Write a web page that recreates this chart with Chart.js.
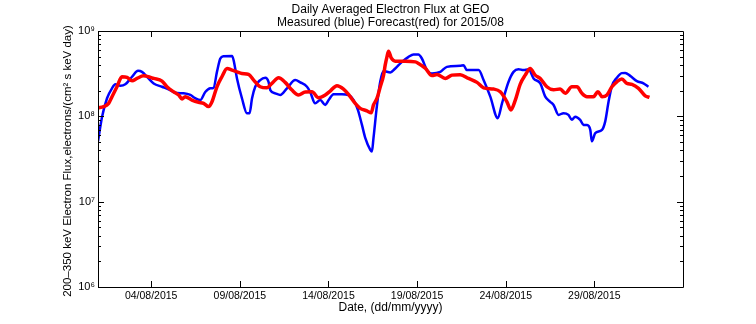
<!DOCTYPE html>
<html lang="en">
<head>
  <meta charset="UTF-8" />
  <title>Daily Averaged Electron Flux at GEO</title>
  <script src="https://cdn.jsdelivr.net/npm/chart.js"></script>
  <style>
    body { margin: 0; background: #fff; }
    #wrap { width: 756px; height: 324px; position: relative; }
  </style>
</head>
<body>
  <div id="wrap"><canvas id="fluxChart"></canvas></div>

  <script>
    // measured flux (blue), x = day of August 2015 (fractional, 32 = 1 Sep), y = electrons/(cm2 s keV day)
    const blueDays = [1.0, 1.23, 1.51, 1.79, 1.98, 2.26, 2.54, 2.92, 3.26, 3.48, 3.85, 4.14, 4.61, 4.98, 5.36, 5.83, 6.21, 6.49, 6.77, 7.05,
      7.34, 7.52, 7.71, 7.9, 8.08, 8.56, 8.65, 8.84, 9.12, 9.4, 9.55, 9.69, 9.87, 10.15, 10.44, 10.62, 10.72, 11.0, 11.28, 11.66,
      12.13, 12.41, 12.79, 12.97, 13.25, 13.54, 13.82, 14.01, 14.29, 14.76, 15.13, 15.42, 15.66, 15.89, 16.08, 16.36, 16.45, 16.54, 16.74, 16.92,
      17.11, 17.49, 17.77, 18.15, 18.52, 18.8, 19.07, 19.27, 19.56, 19.84, 20.31, 20.68, 21.43, 21.62, 21.81, 22.47, 22.75, 23.13, 23.55, 23.79,
      24.16, 24.44, 24.72, 25.0, 25.29, 25.57, 25.95, 26.23, 26.51, 26.7, 26.98, 27.26, 27.54, 27.73, 27.92, 28.2, 28.39, 28.58, 28.77, 28.86,
      29.05, 29.43, 29.61, 29.8, 29.99, 30.27, 30.55, 30.74, 31.02, 31.4, 31.77, 32.05];
    const blueFlux = [5.1e7, 9.9e7, 1.63e8, 2.13e8, 2.37e8, 2.28e8, 2.37e8, 2.91e8, 3.41e8, 3.32e8, 2.78e8, 2.43e8, 2.22e8, 2.07e8, 1.89e8, 1.86e8, 1.78e8, 1.63e8, 1.55e8, 1.93e8,
      2.13e8, 2.16e8, 3.32e8, 4.76e8, 5.07e8, 5.11e8, 4.55e8, 2.78e8, 1.63e8, 1.09e8, 1.09e8, 1.63e8, 2.22e8, 2.66e8, 2.83e8, 2.54e8, 2.03e8, 1.86e8, 1.78e8, 2.13e8,
      2.66e8, 2.5e8, 2.22e8, 1.93e8, 1.42e8, 1.55e8, 1.36e8, 1.55e8, 1.81e8, 1.82e8, 1.78e8, 1.55e8, 1.19e8, 7.93e7, 5.55e7, 4.05e7, 3.87e7, 5.55e7, 1.36e8, 2.54e8,
      3.39e8, 3.27e8, 3.64e8, 4.35e8, 4.98e8, 5.3e8, 5.3e8, 4.76e8, 3.48e8, 3.18e8, 3.32e8, 3.8e8, 3.91e8, 3.97e8, 3.48e8, 3.48e8, 2.66e8, 1.7e8, 9.5e7, 1.42e8,
      2.54e8, 3.32e8, 3.57e8, 3.48e8, 3.57e8, 2.78e8, 2.43e8, 1.7e8, 1.48e8, 1.36e8, 1.04e8, 1.09e8, 1.04e8, 9.1e7, 9.9e7, 9.1e7, 7.93e7, 7.9e7, 6.94e7, 5.1e7,
      6.35e7, 6.94e7, 8.67e7, 1.48e8, 2.26e8, 2.84e8, 3.21e8, 3.23e8, 2.98e8, 2.59e8, 2.43e8, 2.22e8];

    // forecast flux (red)
    const redDays = [1.0, 1.32, 1.6, 1.79, 2.07, 2.35, 2.64, 2.92, 3.2, 3.57, 3.85, 4.14, 4.61, 4.89, 5.26, 5.55, 5.74, 5.92, 6.3, 6.67,
      6.96, 7.24, 7.43, 7.71, 7.99, 8.28, 8.56, 8.84, 9.12, 9.49, 9.78, 10.15, 10.53, 10.81, 11.19, 11.56, 11.94, 12.31, 12.69, 13.07,
      13.44, 13.82, 14.1, 14.48, 14.85, 15.13, 15.51, 15.79, 16.17, 16.41, 16.54, 16.74, 16.92, 17.11, 17.2, 17.3, 17.39, 17.54, 17.77, 18.33,
      18.9, 19.08, 19.46, 19.84, 20.12, 20.59, 20.97, 21.43, 21.9, 22.38, 22.75, 23.31, 23.69, 24.07, 24.29, 24.54, 24.82, 25.1, 25.38, 25.66,
      25.95, 26.32, 26.7, 27.07, 27.36, 27.73, 28.02, 28.3, 28.58, 28.95, 29.2, 29.43, 29.71, 29.99, 30.27, 30.55, 30.84, 31.12, 31.49, 31.87, 32.11];
    const redFlux = [1.26e8, 1.3e8, 1.42e8, 1.7e8, 2.22e8, 2.91e8, 2.86e8, 2.61e8, 2.78e8, 2.98e8, 2.91e8, 2.78e8, 2.59e8, 2.22e8, 1.94e8, 1.78e8, 1.6e8, 1.7e8, 1.55e8, 1.46e8,
      1.42e8, 1.3e8, 1.48e8, 2.22e8, 2.91e8, 3.64e8, 3.48e8, 3.32e8, 3.18e8, 3.1e8, 2.66e8, 2.22e8, 2.16e8, 2.43e8, 2.83e8, 2.5e8, 2.03e8, 1.78e8, 1.93e8, 1.94e8,
      1.65e8, 1.78e8, 1.98e8, 2.29e8, 2.09e8, 1.81e8, 1.42e8, 1.24e8, 1.16e8, 1.1e8, 1.36e8, 1.63e8, 2.2e8, 3.04e8, 3.98e8, 4.98e8, 5.8e8, 4.84e8, 4.43e8, 4.43e8,
      4.35e8, 4.17e8, 3.67e8, 3.0e8, 3.1e8, 2.78e8, 3.04e8, 3.08e8, 2.78e8, 2.5e8, 2.16e8, 2.09e8, 1.94e8, 1.48e8, 1.19e8, 1.55e8, 2.39e8, 3.04e8, 3.64e8, 3.04e8,
      2.78e8, 2.22e8, 2.05e8, 2.09e8, 1.86e8, 2.22e8, 2.22e8, 1.86e8, 1.7e8, 1.7e8, 1.94e8, 1.7e8, 1.78e8, 2.22e8, 2.54e8, 2.73e8, 2.43e8, 2.37e8, 2.13e8, 1.74e8, 1.67e8];

    const dateTicks = [4, 9, 14, 19, 24, 29];
    const decadeTicks = [1e6, 1e7, 1e8, 1e9];
    const supDigits = { 6: "\u2076", 7: "\u2077", 8: "\u2078", 9: "\u2079" };

    const FONT = "'Liberation Sans', Arial, Helvetica, sans-serif";

    function toPoints(xs, ys) {
      return xs.map((x, i) => ({ x: x, y: ys[i] }));
    }

    // black box with inward ticks, titles
    const matlabFrame = {
      id: "matlabFrame",
      afterDraw(chart) {
        const c = chart.ctx;
        const a = chart.chartArea;
        const xs = chart.scales.x, ys = chart.scales.y;
        c.save();
        c.strokeStyle = "#000";
        c.lineWidth = 1;
        c.beginPath();
        c.rect(Math.round(a.left) + 0.5, Math.round(a.top) + 0.5, Math.round(a.right - a.left), Math.round(a.bottom - a.top));
        c.stroke();

        c.beginPath();
        dateTicks.forEach(d => {
          const px = Math.round(xs.getPixelForValue(d)) + 0.5;
          c.moveTo(px, a.bottom); c.lineTo(px, a.bottom - 6);
          c.moveTo(px, a.top); c.lineTo(px, a.top + 6);
        });
        for (let e = 6; e <= 9; e++) {
          for (let m = 1; m <= 9; m++) {
            const v = m * Math.pow(10, e);
            if (v > 1e9) break;
            const len = m === 1 ? 6 : 3;
            const py = Math.round(ys.getPixelForValue(v)) + 0.5;
            c.moveTo(a.left, py); c.lineTo(a.left + len, py);
            c.moveTo(a.right, py); c.lineTo(a.right - len, py);
          }
        }
        c.stroke();

        c.fillStyle = "#000";
        c.textAlign = "center";
        c.textBaseline = "middle";
        c.font = "12px " + FONT;
        const cx = (a.left + a.right) / 2;
        c.fillText("Daily Averaged Electron Flux at GEO", cx, 10);
        c.fillText("Measured (blue) Forecast(red) for 2015/08", cx, 23);
        c.fillText("Date, (dd/mm/yyyy)", cx, 308);

        c.font = "11.5px " + FONT;
        c.translate(68, (a.top + a.bottom) / 2 + 2);
        c.rotate(-Math.PI / 2);
        c.fillText("200\u2013350 keV Electron Flux,electrons/(cm\u00b2 s keV day)", 0, 0);
        c.restore();
      }
    };

    const ctx = document.getElementById("fluxChart").getContext("2d");
    const fluxChart = new Chart(ctx, {
      type: "line",
      data: {
        datasets: [
          {
            label: "Measured",
            data: toPoints(blueDays, blueFlux),
            borderColor: "#0000ff",
            borderWidth: 2.5,
            pointRadius: 0,
            cubicInterpolationMode: "monotone",
            order: 1
          },
          {
            label: "Forecast",
            data: toPoints(redDays, redFlux),
            borderColor: "#ff0000",
            borderWidth: 3.5,
            pointRadius: 0,
            cubicInterpolationMode: "monotone",
            order: 0
          }
        ]
      },
      options: {
        responsive: true,
        maintainAspectRatio: false,
        animation: false,
        layout: { padding: { top: 31, right: 73, left: 0, bottom: 0 } },
        plugins: {
          legend: { display: false },
          tooltip: { enabled: false }
        },
        scales: {
          x: {
            type: "linear",
            min: 1,
            max: 34,
            grid: { display: false, drawTicks: false },
            border: { display: false },
            afterBuildTicks: s => { s.ticks = dateTicks.map(v => ({ value: v })); },
            afterFit: s => { s.height = 37; },
            ticks: {
              padding: 3,
              maxRotation: 0,
              color: "#000",
              font: { family: FONT, size: 10.5 },
              callback: v => String(v).padStart(2, "0") + "/08/2015"
            }
          },
          y: {
            type: "logarithmic",
            min: 1e6,
            max: 1e9,
            grid: { display: false, drawTicks: false },
            border: { display: false },
            afterBuildTicks: s => { s.ticks = decadeTicks.map(v => ({ value: v })); },
            afterFit: s => { s.width = 98; },
            ticks: {
              padding: 3,
              color: "#000",
              font: { family: FONT, size: 11 },
              callback: v => "10" + supDigits[Math.round(Math.log10(v))]
            }
          }
        }
      },
      plugins: [matlabFrame]
    });
  </script>
</body>
</html>
